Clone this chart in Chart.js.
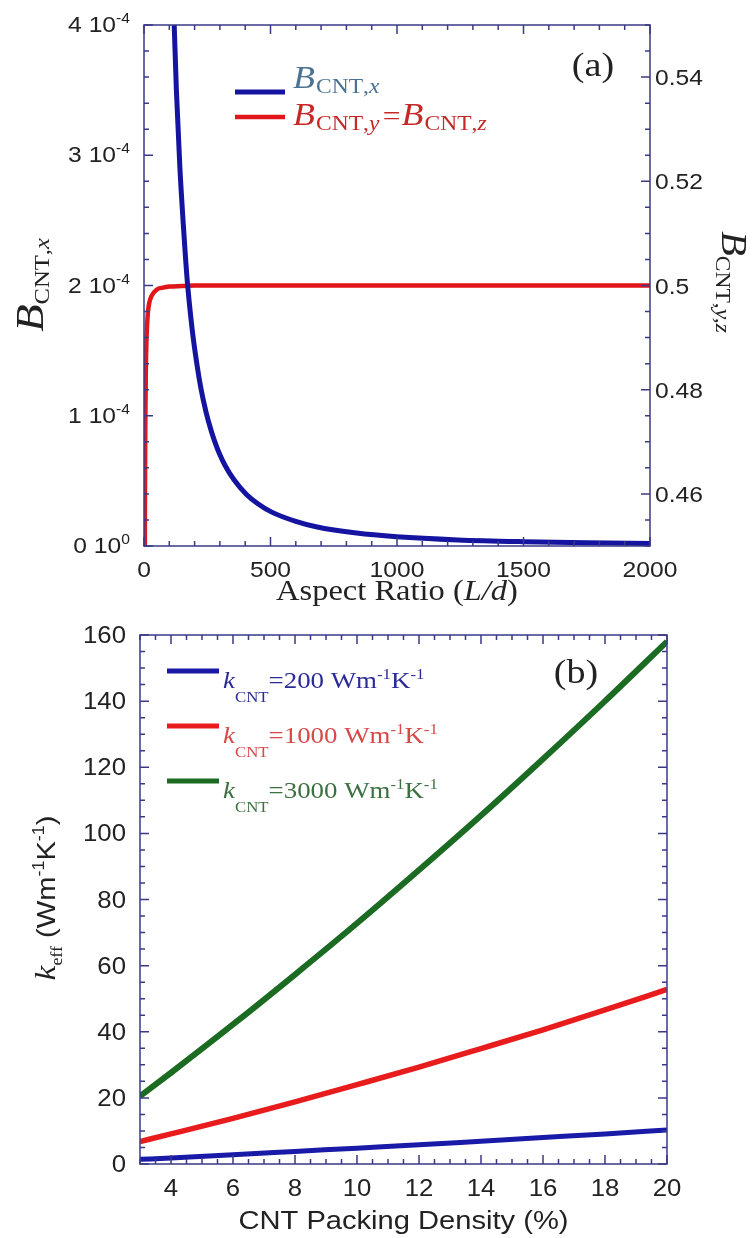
<!DOCTYPE html>
<html>
<head>
<meta charset="utf-8">
<script src="https://cdn.jsdelivr.net/npm/chart.js@4/dist/chart.umd.min.js"></script>
<style>
  html, body { margin: 0; padding: 0; background: #fff; }
  #wrap { position: relative; width: 752px; height: 1238px; }
  canvas { position: absolute; left: 0; }
  #chartA { top: 0; }
  #chartB { top: 615px; }
</style>
</head>
<body>
<div id="wrap">
  <canvas id="chartA" width="752" height="615"></canvas>
  <canvas id="chartB" width="752" height="623"></canvas>
</div>
<script>
// Panel (a): depolarization factors against aspect ratio
const aspectX = [108, 115, 128, 142, 156, 170, 190, 208, 225, 245, 265, 280, 300, 320, 355, 405, 450, 505, 600, 680, 840, 1000, 1240, 1500, 1750, 2000];
const bCntX = [4.8e-4, 4.25e-4, 3.5e-4, 2.9e-4, 2.45e-4, 2.06e-4, 1.67e-4, 1.41e-4, 1.21e-4, 1.03e-4, 0.888e-4, 0.80e-4, 0.70e-4, 0.62e-4, 0.51e-4, 0.396e-4, 0.325e-4, 0.26e-4, 0.189e-4, 0.148e-4, 0.099e-4, 0.071e-4, 0.047e-4, 0.033e-4, 0.0246e-4, 0.019e-4];
const aspectYZ = [2, 3, 4, 5, 7, 10, 15, 20, 30, 50, 75, 100, 150, 200, 500, 1000, 2000];
const bCntYZ = [0.40, 0.445, 0.462, 0.472, 0.483, 0.490, 0.4945, 0.4965, 0.498, 0.4992, 0.4996, 0.4998, 0.4999, 0.5, 0.5, 0.5, 0.5];
const aXTicks = [0, 500, 1000, 1500, 2000];
const aLeftTicks = [0, 1e-4, 2e-4, 3e-4, 4e-4];
const aLeftTickLabels = ["0 10^0", "1 10^-4", "2 10^-4", "3 10^-4", "4 10^-4"];
const aRightTicks = [0.46, 0.48, 0.5, 0.52, 0.54];
const aRightTickLabels = ["0.46", "0.48", "0.5", "0.52", "0.54"];

// Panel (b): effective conductivity against packing density
const packing = [3, 4, 6, 8, 10, 12, 14, 16, 18, 20];
const k200 = [1.4, 1.85, 2.8, 3.8, 4.8, 5.8, 6.9, 8.0, 9.1, 10.3];
const k1000 = [6.8, 9.1, 13.8, 18.8, 24.0, 29.3, 34.9, 40.6, 46.6, 52.8];
const k3000 = [20.5, 27.6, 42.2, 57.3, 72.8, 88.9, 105.4, 122.5, 140.0, 158.0];
const kLabels = ["200", "1000", "3000"];
const bXTicks = [4, 6, 8, 10, 12, 14, 16, 18, 20];
const bYTicks = [0, 20, 40, 60, 80, 100, 120, 140, 160];

const SERIF = "'Liberation Serif', 'DejaVu Serif', serif";
const SANS = "'Liberation Sans', Arial, sans-serif";
const FRAME = "#3a3a86";
const TEXT = "#222";
const SX = 1.12; // glyphs in this figure run a little wide

function pts(xs, ys) {
  return xs.map((x, i) => ({ x: x, y: ys[i] }));
}

// draw a run of text pieces, each with its own font / baseline shift / colour
function rich(ctx, parts, x, y, align, angle) {
  ctx.save();
  ctx.translate(x, y);
  if (angle) ctx.rotate(angle);
  ctx.scale(SX, 1);
  ctx.textBaseline = "alphabetic";
  ctx.textAlign = "left";
  let w = 0;
  parts.forEach(p => { ctx.font = p.f; w += ctx.measureText(p.t).width + (p.gap || 0); });
  let cx = align === "right" ? -w : align === "center" ? -w / 2 : 0;
  parts.forEach(p => {
    ctx.font = p.f;
    ctx.fillStyle = p.c || TEXT;
    ctx.fillText(p.t, cx, p.dy || 0);
    cx += ctx.measureText(p.t).width + (p.gap || 0);
  });
  ctx.restore();
}

function tickX(ctx, scale, area, v, len) {
  const px = scale.getPixelForValue(v);
  ctx.moveTo(px, area.bottom); ctx.lineTo(px, area.bottom - len);
  ctx.moveTo(px, area.top); ctx.lineTo(px, area.top + len);
}

function tickY(ctx, scale, area, v, len, side) {
  const py = scale.getPixelForValue(v);
  if (side !== "right") { ctx.moveTo(area.left, py); ctx.lineTo(area.left + len, py); }
  if (side !== "left") { ctx.moveTo(area.right, py); ctx.lineTo(area.right - len, py); }
}

const panelA = {
  id: "panelA",
  afterDraw(chart) {
    const ctx = chart.ctx, a = chart.chartArea;
    const sx = chart.scales.x, sy = chart.scales.y, sy2 = chart.scales.y2;
    ctx.save();
    ctx.strokeStyle = FRAME;
    ctx.lineWidth = 1.5;
    ctx.strokeRect(a.left, a.top, a.right - a.left, a.bottom - a.top);
    ctx.beginPath();
    for (let i = 0; i <= 20; i++) tickX(ctx, sx, a, i * 100, i % 5 === 0 ? 9 : 5);
    for (let i = 0; i <= 20; i++) tickY(ctx, sy, a, i * 0.2e-4, i % 5 === 0 ? 9 : 5, "left");
    for (let i = 0; i <= 20; i++) tickY(ctx, sy2, a, 0.45 + i * 0.005, i % 4 === 2 ? 9 : 5, "right");
    ctx.stroke();
    ctx.restore();

    const tf = "22px " + SANS;
    aXTicks.forEach(v => rich(ctx, [{ t: String(v), f: tf }], sx.getPixelForValue(v), 577, "center"));
    aLeftTicks.forEach((v, i) => {
      const [base, exp] = aLeftTickLabels[i].split("^");
      rich(ctx, [{ t: base, f: "22px " + SANS }, { t: exp, f: "14px " + SANS, dy: -9 }],
        130, sy.getPixelForValue(v) + 7, "right");
    });
    aRightTicks.forEach((v, i) => rich(ctx, [{ t: aRightTickLabels[i], f: tf }], 655, sy2.getPixelForValue(v) + 8, "left"));

    // axis titles
    rich(ctx, [
      { t: "Aspect Ratio (", f: "29px " + SERIF },
      { t: "L/d", f: "italic 29px " + SERIF },
      { t: ")", f: "29px " + SERIF }
    ], (a.left + a.right) / 2, 600, "center");
    rich(ctx, [
      { t: "B", f: "italic 40px " + SERIF },
      { t: "CNT", f: "22px " + SERIF, dy: 6 },
      { t: ",", f: "22px " + SERIF, dy: 6 },
      { t: "x", f: "italic 22px " + SERIF, dy: 6 }
    ], 43, 285, "center", -Math.PI / 2);
    rich(ctx, [
      { t: "B", f: "italic 36px " + SERIF },
      { t: "CNT", f: "21px " + SERIF, dy: 6 },
      { t: ",", f: "21px " + SERIF, dy: 6 },
      { t: "y,z", f: "italic 21px " + SERIF, dy: 6 }
    ], 722, 282, "center", Math.PI / 2);

    // legend
    ctx.save();
    ctx.lineWidth = 5;
    ctx.strokeStyle = "#1414a0";
    ctx.beginPath(); ctx.moveTo(235, 92); ctx.lineTo(285, 92); ctx.stroke();
    ctx.strokeStyle = "#e0161b";
    ctx.lineWidth = 4.5;
    ctx.beginPath(); ctx.moveTo(235, 117); ctx.lineTo(285, 117); ctx.stroke();
    ctx.restore();
    const lb = "#4a7393", lr = "#c62828";
    rich(ctx, [
      { t: "B", f: "italic 32px " + SERIF, c: lb, gap: 1 },
      { t: "CNT", f: "21px " + SERIF, dy: 5, c: lb },
      { t: ",", f: "21px " + SERIF, dy: 5, c: lb },
      { t: "x", f: "italic 21px " + SERIF, dy: 5, c: lb }
    ], 293, 88, "left");
    rich(ctx, [
      { t: "B", f: "italic 32px " + SERIF, c: lr, gap: 1 },
      { t: "CNT", f: "21px " + SERIF, dy: 5, c: lr },
      { t: ",", f: "21px " + SERIF, dy: 5, c: lr },
      { t: "y", f: "italic 21px " + SERIF, dy: 5, c: lr, gap: 3 },
      { t: "=", f: "28px " + SERIF, c: lr, gap: 1 },
      { t: "B", f: "italic 32px " + SERIF, c: lr, gap: 1 },
      { t: "CNT", f: "21px " + SERIF, dy: 5, c: lr },
      { t: ",", f: "21px " + SERIF, dy: 5, c: lr },
      { t: "z", f: "italic 21px " + SERIF, dy: 5, c: lr }
    ], 293, 125, "left");

    rich(ctx, [{ t: "(a)", f: "34px " + SERIF }], 593, 76, "center");
  }
};

const panelB = {
  id: "panelB",
  afterDraw(chart) {
    const ctx = chart.ctx, a = chart.chartArea;
    const sx = chart.scales.x, sy = chart.scales.y;
    const off = 615;
    ctx.save();
    ctx.strokeStyle = FRAME;
    ctx.lineWidth = 1.5;
    ctx.strokeRect(a.left, a.top, a.right - a.left, a.bottom - a.top);
    ctx.beginPath();
    for (let i = 0; i <= 34; i++) {
      const v = 3 + i * 0.5;
      tickX(ctx, sx, a, v, v % 2 === 0 ? 9 : 5);
    }
    for (let i = 0; i <= 32; i++) tickY(ctx, sy, a, i * 5, i % 4 === 0 ? 9 : 5, "both");
    ctx.stroke();
    ctx.restore();

    const tf = "23px " + SANS;
    bXTicks.forEach(v => rich(ctx, [{ t: String(v), f: tf }], sx.getPixelForValue(v), 1196 - off, "center"));
    bYTicks.forEach(v => rich(ctx, [{ t: String(v), f: tf }], 126, sy.getPixelForValue(v) + 8, "right"));

    rich(ctx, [{ t: "CNT Packing Density (%)", f: "26px " + SANS }], (a.left + a.right) / 2, 1229 - off, "center");
    rich(ctx, [
      { t: "k", f: "italic 30px " + SERIF },
      { t: "eff", f: "16px " + SERIF, dy: 7 },
      { t: " (Wm", f: "26px " + SANS },
      { t: "-1", f: "16px " + SANS, dy: -11 },
      { t: "K", f: "26px " + SANS },
      { t: "-1", f: "16px " + SANS, dy: -11 },
      { t: ")", f: "26px " + SANS }
    ], 55, 898 - off, "center", -Math.PI / 2);

    // legend
    const lineCols = ["#1a1aa8", "#e81c1c", "#1c6b23"];
    const textCols = ["#2a2a9a", "#d84848", "#3b7040"];
    const rows = [671, 726, 781];
    rows.forEach((y, i) => {
      ctx.save();
      ctx.strokeStyle = lineCols[i];
      ctx.lineWidth = 5;
      ctx.beginPath(); ctx.moveTo(167, y - off); ctx.lineTo(219, y - off); ctx.stroke();
      ctx.restore();
      const c = textCols[i];
      rich(ctx, [
        { t: "k", f: "italic 24px " + SERIF, c: c },
        { t: "CNT", f: "15px " + SERIF, dy: 14, c: c },
        { t: "=" + kLabels[i] + " Wm", f: "24px " + SERIF, c: c },
        { t: "-1", f: "15px " + SERIF, dy: -9, c: c },
        { t: "K", f: "24px " + SERIF, c: c },
        { t: "-1", f: "15px " + SERIF, dy: -9, c: c }
      ], 223, y + 17 - off, "left");
    });

    rich(ctx, [{ t: "(b)", f: "34px " + SERIF }], 576, 683 - off, "center");
  }
};

const common = {
  responsive: false,
  animation: false,
  devicePixelRatio: 1,
  plugins: { legend: { display: false }, tooltip: { enabled: false } },
  elements: { point: { radius: 0 } }
};

new Chart(document.getElementById("chartA"), {
  type: "line",
  data: {
    datasets: [
      { data: pts(aspectX, bCntX), yAxisID: "y", borderColor: "#1414a0", borderWidth: 5,
        cubicInterpolationMode: "monotone", clip: 0, fill: false },
      { data: pts(aspectYZ, bCntYZ), yAxisID: "y2", borderColor: "#e0161b", borderWidth: 4.5,
        cubicInterpolationMode: "monotone", clip: 0, fill: false }
    ]
  },
  options: Object.assign({}, common, {
    layout: { padding: { left: 144, top: 25, right: 102, bottom: 69 } },
    scales: {
      x: { type: "linear", min: 0, max: 2000, display: false },
      y: { type: "linear", min: 0, max: 4e-4, display: false },
      y2: { type: "linear", position: "right", min: 0.45, max: 0.55, display: false }
    }
  }),
  plugins: [panelA]
});

new Chart(document.getElementById("chartB"), {
  type: "line",
  data: {
    datasets: [
      { data: pts(packing, k200), borderColor: "#1a1aa8", borderWidth: 5, cubicInterpolationMode: "monotone", clip: 0 },
      { data: pts(packing, k1000), borderColor: "#e81c1c", borderWidth: 5.5, cubicInterpolationMode: "monotone", clip: 0 },
      { data: pts(packing, k3000), borderColor: "#1c6b23", borderWidth: 6, cubicInterpolationMode: "monotone", clip: 0 }
    ]
  },
  options: Object.assign({}, common, {
    layout: { padding: { left: 140, top: 20, right: 85, bottom: 74 } },
    scales: {
      x: { type: "linear", min: 3, max: 20, display: false },
      y: { type: "linear", min: 0, max: 160, display: false }
    }
  }),
  plugins: [panelB]
});
</script>
</body>
</html>
